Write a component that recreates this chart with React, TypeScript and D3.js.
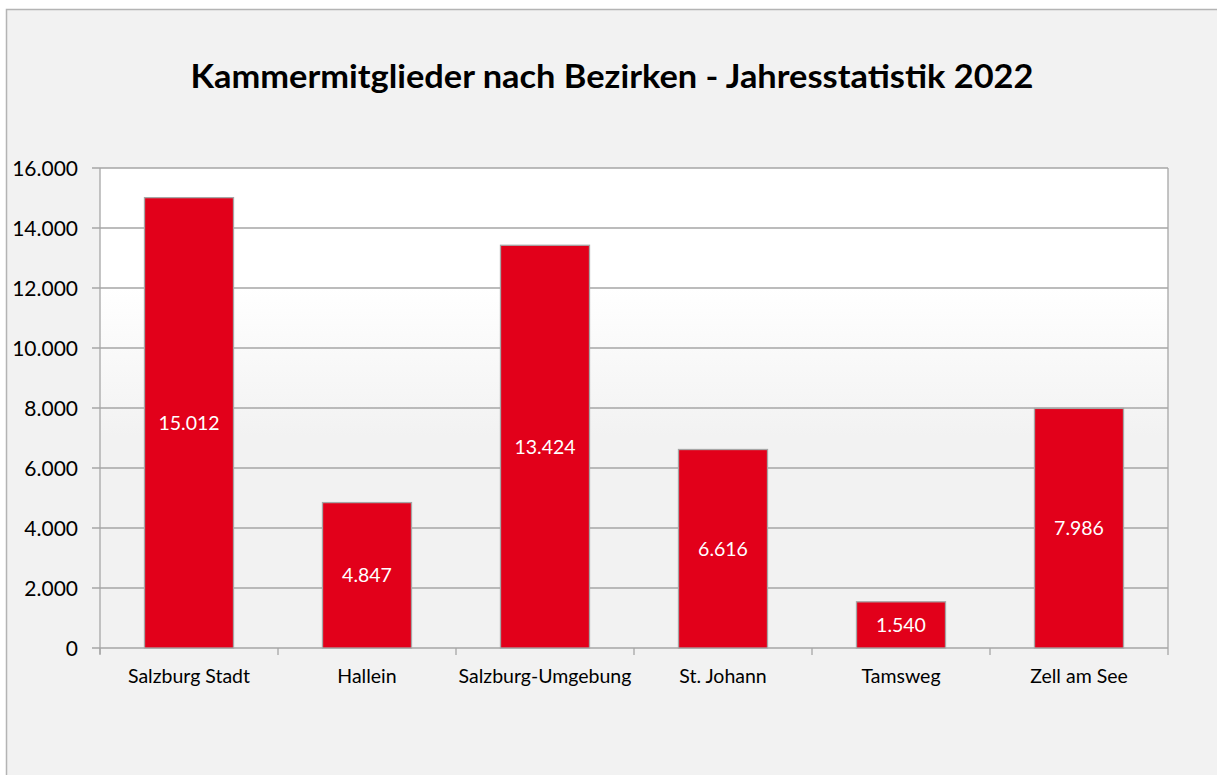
import React from "react";
import * as d3 from "d3";

const categories = ["Salzburg Stadt", "Hallein", "Salzburg-Umgebung", "St. Johann", "Tamsweg", "Zell am See"];
const values = [15012, 4847, 13424, 6616, 1540, 7986];
const yTicks = [0, 2000, 4000, 6000, 8000, 10000, 12000, 14000, 16000];
const title = "Kammermitglieder nach Bezirken - Jahresstatistik 2022";

const W = 1217;
const H = 775;
const plot = { left: 100, top: 168, right: 1168, bottom: 648 };
const FONT = "Lato, 'Noto Sans', sans-serif";

const fmt = (v: number) => d3.format(",")(v).replace(/,/g, ".");

export default function App() {
  const x = d3.scaleBand<string>().domain(categories).range([plot.left, plot.right]).paddingInner(0.5).paddingOuter(0.25);
  const xb = d3.scaleBand<string>().domain(categories).range([plot.left, plot.right]);
  const y = d3.scaleLinear().domain([0, 16000]).range([plot.bottom, plot.top]);
  const bounds = [plot.left, ...categories.map((c) => (xb(c) as number) + xb.bandwidth())];

  return (
    <div style={{ position: "absolute", left: 0, top: 0 }}>
      <svg width={W} height={H} style={{ display: "block" }}>
        <defs>
          <linearGradient id="pg" x1="0" y1="0" x2="0" y2="1">
            <stop offset="0.25" stopColor="#ffffff" />
            <stop offset="0.56" stopColor="#f2f2f2" />
            <stop offset="1" stopColor="#f2f2f2" />
          </linearGradient>
        </defs>
        <rect x={0} y={0} width={W} height={H} fill="#ffffff" />
        <rect x={6.5} y={9.5} width={W + 10} height={H + 10} fill="#f2f2f2" stroke="#b4b4b4" strokeWidth={1.5} />
        <text x={612} y={88} textAnchor="middle" fontFamily={FONT} fontWeight="bold" fontSize={32} fill="#000" textLength={843} lengthAdjust="spacingAndGlyphs">
          {title}
        </text>
        <rect x={plot.left} y={plot.top} width={plot.right - plot.left} height={plot.bottom - plot.top} fill="url(#pg)" />
        {yTicks.map((t) => (
          <g key={t}>
            <line x1={plot.left - 8} x2={plot.right} y1={y(t)} y2={y(t)} stroke="#a6a6a6" strokeWidth={1.3} />
            <text x={78} y={y(t)} dy="0.36em" textAnchor="end" fontFamily={FONT} fontSize={21} fill="#000">
              {fmt(t)}
            </text>
          </g>
        ))}
        <line x1={plot.right} x2={plot.right} y1={plot.top} y2={plot.bottom} stroke="#a6a6a6" strokeWidth={1.3} />
        <line x1={plot.left} x2={plot.left} y1={plot.top} y2={plot.bottom + 6} stroke="#a6a6a6" strokeWidth={1.3} />
        {bounds.map((b, i) => (
          <line key={i} x1={b} x2={b} y1={plot.bottom} y2={plot.bottom + 7} stroke="#a6a6a6" strokeWidth={1.3} />
        ))}
        {categories.map((c, i) => {
          const bx = x(c) as number;
          const by = y(values[i]);
          return (
            <g key={c}>
              <rect x={bx} y={by} width={x.bandwidth()} height={plot.bottom - by} fill="#e2001a" stroke="#a6a6a6" strokeWidth={1.3} />
              <text x={bx + x.bandwidth() / 2} y={(by + plot.bottom) / 2} dy="0.36em" textAnchor="middle" fontFamily={FONT} fontSize={19.5} fill="#ffffff">
                {fmt(values[i])}
              </text>
              <text x={(xb(c) as number) + xb.bandwidth() / 2} y={683} textAnchor="middle" fontFamily={FONT} fontSize={19.5} fill="#000">
                {c}
              </text>
            </g>
          );
        })}
      </svg>
    </div>
  );
}
